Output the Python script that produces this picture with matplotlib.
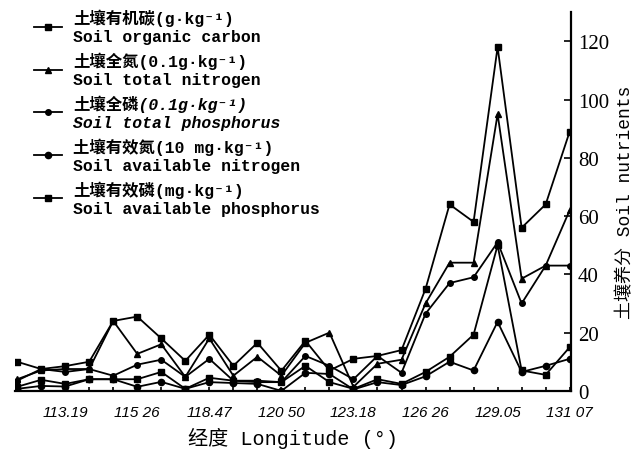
import matplotlib
matplotlib.use('Agg')
import matplotlib.pyplot as plt
from matplotlib.lines import Line2D

# x positions are sampling sites ordered by longitude; labels every third site
n_sites = 24
tick_idx = [2, 5, 8, 11, 14, 17, 20, 23]
tick_labels = ['113.19', '115 26', '118.47', '120 50', '123.18', '126 26', '129.05', '131 07']

avail_p = [10, 7.5, 8.5, 10, 24, 25.5, 18, 10.3, 19.3, 8.6, 16.5, 6.9, 17.2, 7, 11, 12,
           14, 35, 64, 58, 118, 56, 64, 89]
total_n = [4, 7, 7.5, 7.5, 24, 12.7, 16, 4.8, 18, 5.2, 11.7, 5.2, 16.5, 20, 1.4, 9.3,
           10.7, 30, 44, 44, 95, 38.5, 43, 62]
total_p = [3.5, 7.5, 6.5, 7.5, 5.2, 9, 10.7, 4.8, 11, 3.5, 3.5, 3, 12, 8.6, 4, 12,
           6.2, 26.5, 37, 39, 51, 30, 43, 43]
organic_c = [1.4, 3.8, 2.4, 4, 4, 4, 6.5, 0.7, 4.5, 3.5, 3, 3, 8.6, 3, 0.7, 4,
             2.4, 6.5, 11.7, 19.3, 50, 7, 5.5, 15]
avail_n = [0.7, 1.7, 1.5, 4, 4, 1.4, 3.1, 0.7, 3, 2.7, 2.4, 0, 6.2, 5.8, 0.5, 3,
           2, 5, 10, 7, 23.7, 6.5, 8.6, 11]

FAM = ['Liberation Mono', 'DejaVu Sans Mono', 'Noto Sans CJK SC']

fig = plt.figure(figsize=(6.4, 4.52), dpi=100)
ax = fig.add_axes([0.023, 0.133, 0.869, 0.838])
x = list(range(n_sites))

ax.plot(x, organic_c, color='black', lw=1.3, marker='s', ms=4)
ax.plot(x, total_n, color='black', lw=1.3, marker='^', ms=4)
ax.plot(x, total_p, color='black', lw=1.3, marker='o', ms=4)
ax.plot(x, avail_n, color='black', lw=1.3, marker='o', ms=4.5)
ax.plot(x, avail_p, color='black', lw=1.3, marker='s', ms=5)

ax.set_xlim(-0.1, 23.05)
ax.set_ylim(0, 130)
for s in ('left', 'top'):
    ax.spines[s].set_visible(False)
ax.spines['right'].set_linewidth(1.6)
ax.spines['bottom'].set_linewidth(1.6)

ax.yaxis.tick_right()
ax.yaxis.set_label_position('right')
ax.set_yticks([0, 20, 40, 60, 80, 100, 120])
ax.tick_params(axis='y', direction='in', length=5, width=1.2, pad=5, labelsize=15)
for t in ax.get_yticklabels():
    t.set_fontfamily('Liberation Serif')

ax.set_xticks(x, minor=True)
ax.set_xticks(tick_idx)
ax.set_xticklabels(tick_labels, fontsize=11, fontstyle='italic', family='Liberation Sans')
ax.tick_params(axis='x', which='both', direction='in', length=3, width=1.2, pad=10)

ax.set_xlabel('经度 Longitude (°)', fontsize=14.5, family=FAM, labelpad=6)
ax.set_ylabel('土壤养分 Soil nutrients', fontsize=13, family=FAM, labelpad=6)

handles = [
    Line2D([], [], color='black', lw=1.3, marker='s', ms=4),
    Line2D([], [], color='black', lw=1.3, marker='^', ms=4),
    Line2D([], [], color='black', lw=1.3, marker='o', ms=4),
    Line2D([], [], color='black', lw=1.3, marker='o', ms=4.5),
    Line2D([], [], color='black', lw=1.3, marker='s', ms=5),
]
labels = [
    '土壤有机碳(g·kg⁻¹)\nSoil organic carbon',
    '土壤全氮(0.1g·kg⁻¹)\nSoil total nitrogen',
    '土壤全磷(0.1g·kg⁻¹)\nSoil total phosphorus',
    '土壤有效氮(10 mg·kg⁻¹)\nSoil available nitrogen',
    '土壤有效磷(mg·kg⁻¹)\nSoil available phosphorus',
]
leg = ax.legend(handles, labels, loc='upper left', bbox_to_anchor=(0.035, 1.005),
                bbox_transform=fig.transFigure, frameon=False, handlelength=1.7,
                handletextpad=0.7, labelspacing=0.42, borderpad=0.2,
                prop={'family': FAM, 'size': 11.8, 'weight': 'bold'})
for t in leg.get_texts():
    t.set_linespacing(1.3)
leg.get_texts()[2].set_fontstyle('italic')

fig.savefig('out.png', dpi=100)
